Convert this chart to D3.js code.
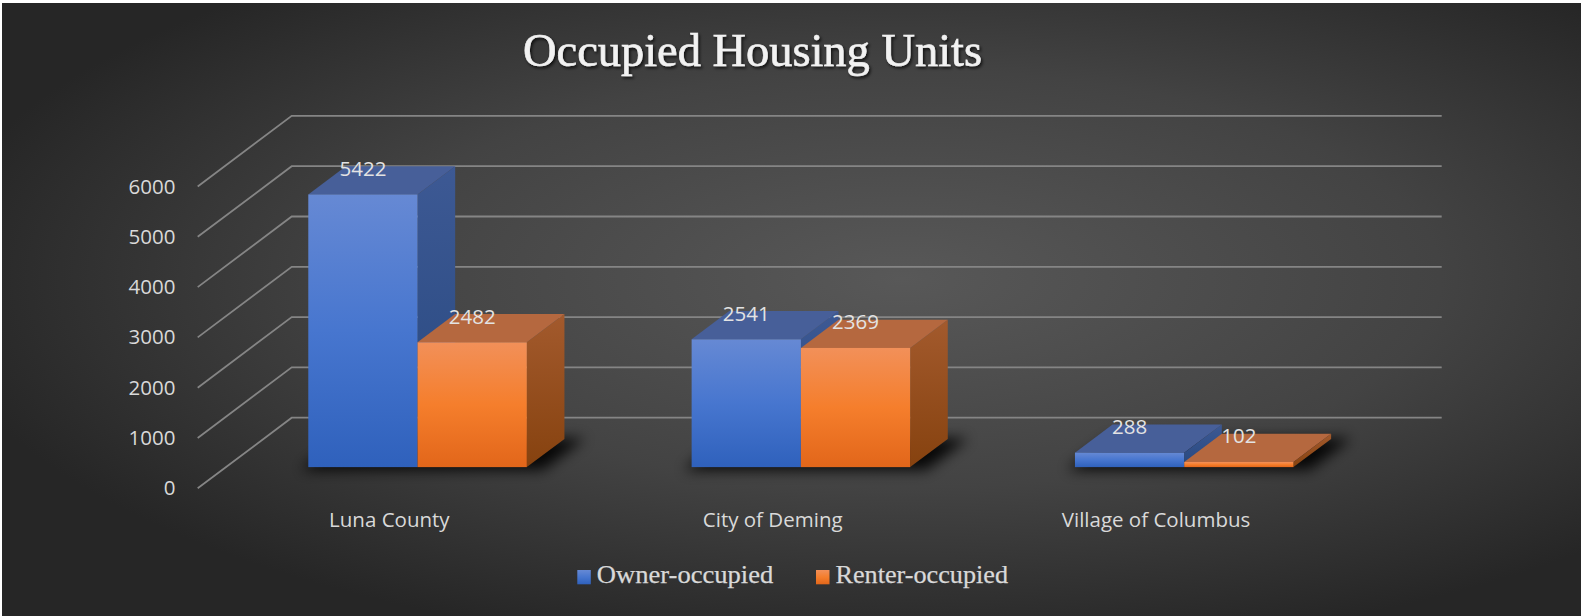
<!DOCTYPE html>
<html>
<head>
<meta charset="utf-8">
<script src="https://cdn.jsdelivr.net/npm/d3@7/dist/d3.min.js"></script>
<style>
  html, body { margin: 0; padding: 0; background: #ffffff; }
  svg { display: block; }
</style>
</head>
<body>
<svg id="chart" width="1581" height="616"></svg>
<script>
// ---- data ----
const categories = ["Luna County", "City of Deming", "Village of Columbus"];
const seriesNames = ["Owner-occupied", "Renter-occupied"];
const ownerValues = [5422, 2541, 288];
const renterValues = [2482, 2369, 102];
const yTickValues = [0, 1000, 2000, 3000, 4000, 5000, 6000];
const chartTitle = "Occupied Housing Units";

// ---- layout ----
const W = 1581, H = 616;
const svg = d3.select("#chart");
const defs = svg.append("defs");

// background gradient
const bg = defs.append("radialGradient").attr("id", "bgGrad")
  .attr("cx", 0.57).attr("cy", 0.45).attr("r", 0.62).attr("fx", 0.57).attr("fy", 0.45);
bg.append("stop").attr("offset", 0).attr("stop-color", "#585858");
bg.append("stop").attr("offset", 0.55).attr("stop-color", "#434343");
bg.append("stop").attr("offset", 1).attr("stop-color", "#262626");

svg.append("rect").attr("x", 2).attr("y", 3).attr("width", W - 2).attr("height", H - 3)
  .attr("fill", "url(#bgGrad)");

// gradients for faces
function linGrad(id, stops, x2, y2) {
  const g = defs.append("linearGradient").attr("id", id)
    .attr("x1", 0).attr("y1", 0).attr("x2", x2).attr("y2", y2);
  stops.forEach(s => g.append("stop").attr("offset", s[0]).attr("stop-color", s[1]));
}
linGrad("blueFront", [[0, "#6689d4"], [0.5, "#4776cf"], [1, "#2f61bc"]], 0, 1);
linGrad("blueSide", [[0, "#3d5994"], [1, "#27487f"]], 0, 1);
linGrad("orangeFront", [[0, "#f29059"], [0.5, "#f57e2c"], [1, "#e2661a"]], 0, 1);
linGrad("orangeSide", [[0, "#a35a2d"], [1, "#86420f"]], 0, 1);

const faceStyle = {
  "Owner-occupied": { front: "url(#blueFront)", side: "url(#blueSide)", top: "#475f99" },
  "Renter-occupied": { front: "url(#orangeFront)", side: "url(#orangeSide)", top: "#b5683f" }
};

// filters
const blur = defs.append("filter").attr("id", "shadowBlur")
  .attr("x", "-30%").attr("y", "-100%").attr("width", "160%").attr("height", "300%");
blur.append("feGaussianBlur").attr("stdDeviation", 7);

const tshadow = defs.append("filter").attr("id", "titleShadow")
  .attr("x", "-10%").attr("y", "-30%").attr("width", "120%").attr("height", "160%");
tshadow.append("feDropShadow").attr("dx", 1.5).attr("dy", 2).attr("stdDeviation", 1.8)
  .attr("flood-color", "#000").attr("flood-opacity", 0.75);

// 3D projection parameters
const frontLeft = 197.7, frontRight = 1347.7;
const depthDX = 94, depthDY = -70.6;
const barT0 = 0.3, barT1 = 0.7;

const y = d3.scaleLinear().domain([0, 6000]).range([488.3, 186.5]);
const x = d3.scaleBand().domain(categories).range([frontLeft, frontRight]).padding(0);
const xs = d3.scaleBand().domain(seriesNames).range([0, x.bandwidth()]).paddingInner(0).paddingOuter(0.754);

const P = (px, py, t) => [px + t * depthDX, py + t * depthDY];
const poly = pts => pts.map(p => p.join(",")).join(" ");

// gridlines: back wall + left wall diagonals
const grid = svg.append("g");
yTickValues.forEach(v => {
  const a = P(frontLeft, y(v), 0), b = P(frontLeft, y(v), 1), c = P(frontRight, y(v), 1);
  grid.append("polyline").attr("points", poly([a, b, c]))
    .attr("fill", "none").attr("stroke", "#858585").attr("stroke-width", 1.8);
});

// y axis labels
const axisFont = "'Open Sans', 'Noto Sans', sans-serif";
svg.append("g").selectAll("text").data(yTickValues).join("text")
  .attr("x", 175.5).attr("y", d => y(d) + 7)
  .attr("text-anchor", "end")
  .attr("font-family", axisFont).attr("font-size", 20.5).attr("fill", "#d9d9d9")
  .text(d => d);

// data rows
const rows = categories.map((c, i) => ({
  category: c,
  bars: [
    { series: seriesNames[0], value: ownerValues[i] },
    { series: seriesNames[1], value: renterValues[i] }
  ]
}));

// floor shadows
const shadowG = svg.append("g").attr("filter", "url(#shadowBlur)");
rows.forEach(r => {
  const x0 = x(r.category) + xs(seriesNames[0]) - 8;
  const x1 = x(r.category) + xs(seriesNames[1]) + xs.bandwidth() + 16;
  const base = y(0) + 3;
  shadowG.append("polygon")
    .attr("points", poly([P(x0, base, barT0), P(x1, base, barT0), P(x1, base, barT1 + 0.05), P(x0, base, barT1 + 0.05)]))
    .attr("fill", "#000").attr("opacity", 0.9);
});

// bars
const barsG = svg.append("g");
rows.forEach(r => {
  r.bars.forEach(b => {
    const st = faceStyle[b.series];
    const bx0 = x(r.category) + xs(b.series);
    const bx1 = bx0 + xs.bandwidth();
    const top = y(b.value), base = y(0);
    const g = barsG.append("g");
    g.append("polygon")
      .attr("points", poly([P(bx1, top, barT0), P(bx1, top, barT1), P(bx1, base, barT1), P(bx1, base, barT0)]))
      .attr("fill", st.side);
    g.append("polygon")
      .attr("points", poly([P(bx0, top, barT0), P(bx1, top, barT0), P(bx1, top, barT1), P(bx0, top, barT1)]))
      .attr("fill", st.top);
    const f0 = P(bx0, top, barT0), f1 = P(bx1, base, barT0);
    g.append("rect")
      .attr("x", f0[0]).attr("y", f0[1])
      .attr("width", f1[0] - f0[0]).attr("height", Math.max(0.5, f1[1] - f0[1]))
      .attr("fill", st.front);
  });
});

// data labels
const labelsG = svg.append("g");
rows.forEach(r => {
  r.bars.forEach(b => {
    const bx = x(r.category) + xs(b.series) + xs.bandwidth() / 2;
    const p = P(bx, y(b.value), barT0);
    labelsG.append("text")
      .attr("x", p[0]).attr("y", p[1] - 18.5)
      .attr("text-anchor", "middle")
      .attr("font-family", axisFont).attr("font-size", 20.5).attr("fill", "#e3e3e3")
      .text(b.value);
  });
});

// category labels
svg.append("g").selectAll("text").data(categories).join("text")
  .attr("x", d => x(d) + x.bandwidth() / 2).attr("y", 526.5)
  .attr("text-anchor", "middle")
  .attr("font-family", axisFont).attr("font-size", 20.5).attr("fill", "#d9d9d9")
  .text(d => d);

// title
svg.append("text")
  .attr("x", 523).attr("y", 66)
  .attr("font-family", "'Liberation Serif', 'DejaVu Serif', serif")
  .attr("font-size", 47).attr("fill", "#f2f2f2")
  .attr("stroke", "#f2f2f2").attr("stroke-width", 0.6)
  .attr("textLength", 459).attr("lengthAdjust", "spacingAndGlyphs")
  .attr("filter", "url(#titleShadow)")
  .text(chartTitle);

// legend
const legendItems = [
  { name: seriesNames[0], x: 577.3, len: 176.5, fill: "url(#blueFront)" },
  { name: seriesNames[1], x: 816, len: 172.5, fill: "url(#orangeFront)" }
];
const lg = svg.append("g");
legendItems.forEach(it => {
  lg.append("rect").attr("x", it.x).attr("y", 570).attr("width", 13.5).attr("height", 14.3)
    .attr("fill", it.fill);
  lg.append("text").attr("x", it.x + 19.5).attr("y", 583.3)
    .attr("font-family", "'Liberation Serif', 'DejaVu Serif', serif")
    .attr("font-size", 25.5).attr("fill", "#d9d9d9")
    .attr("stroke", "#d9d9d9").attr("stroke-width", 0.25)
    .attr("textLength", it.len).attr("lengthAdjust", "spacingAndGlyphs")
    .text(it.name);
});
</script>
</body>
</html>
